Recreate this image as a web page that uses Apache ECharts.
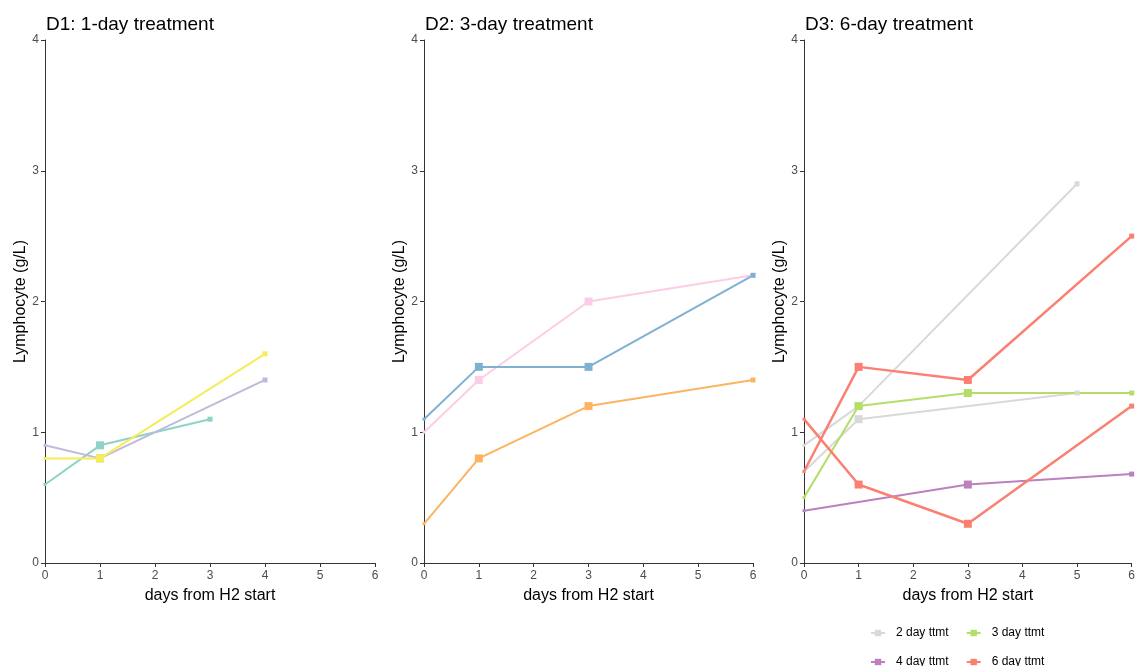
<!DOCTYPE html>
<html>
<head>
<meta charset="utf-8">
<script src="https://cdn.jsdelivr.net/npm/echarts@6/dist/echarts.min.js"></script>
<style>
  html, body { margin: 0; padding: 0; background: #fff; }
  #chart { width: 1138px; height: 666px; }
</style>
</head>
<body>
<div id="chart"></div>
<script>
// ---- data: [days from H2 start, lymphocyte g/L] ----
const panelTitles = ['D1: 1-day treatment', 'D2: 3-day treatment', 'D3: 6-day treatment'];
const xTickMax = 6;
const yTickMax = 4;

// D1 panel
const d1Teal   = [[0, 0.6], [1, 0.9], [3, 1.1]];
const d1Purple = [[0, 0.9], [1, 0.8], [4, 1.4]];
const d1Yellow = [[0, 0.8], [1, 0.8], [4, 1.6]];

// D2 panel
const d2Blue   = [[0, 1.1], [1, 1.5], [3, 1.5], [6, 2.2]];
const d2Pink   = [[0, 1.0], [1, 1.4], [3, 2.0], [6, 2.2]];
const d2Orange = [[0, 0.3], [1, 0.8], [3, 1.2], [6, 1.4]];

// D3 panel
const legendNames = ['2 day ttmt', '3 day ttmt', '4 day ttmt', '6 day ttmt'];
const d3Ttmt2a = [[0, 0.9], [1, 1.2], [5, 2.9]];
const d3Ttmt2b = [[0, 0.7], [1, 1.1], [5, 1.3]];
const d3Ttmt3  = [[0, 0.5], [1, 1.2], [3, 1.3], [6, 1.3]];
const d3Ttmt4  = [[0, 0.4], [3, 0.6], [6, 0.68]];
const d3Ttmt6a = [[0, 0.7], [1, 1.5], [3, 1.4], [6, 2.5]];
const d3Ttmt6b = [[0, 1.1], [1, 0.6], [3, 0.3], [6, 1.2]];

// ---- styling ----
const FONT = 'Liberation Sans, Arial, sans-serif';
const grids = [
  { left: 45,  top: 40, width: 330, height: 523 },
  { left: 424, top: 40, width: 329, height: 523 },
  { left: 804, top: 40, width: 329, height: 523 }
];

function mkSeries(name, data, color, g, width) {
  const n = data.length;
  return {
    name: name,
    type: 'line',
    xAxisIndex: g,
    yAxisIndex: g,
    data: data,
    symbol: 'rect',
    symbolSize: function (v, p) {
      if (p.dataIndex === 0) return 3;
      if (p.dataIndex === n - 1) return 5;
      return 8;
    },
    showSymbol: true,
    lineStyle: { color: color, width: width || 2 },
    itemStyle: { color: color },
    emphasis: { disabled: true },
    z: 3
  };
}

const series = [
  mkSeries('D1 a', d1Teal, '#8dd3c7', 0),
  mkSeries('D1 b', d1Purple, '#bebada', 0),
  mkSeries('D1 c', d1Yellow, '#f7ec58', 0),
  mkSeries('D2 a', d2Pink, '#fccde5', 1),
  mkSeries('D2 b', d2Blue, '#80b1d3', 1),
  mkSeries('D2 c', d2Orange, '#fdb462', 1),
  mkSeries(legendNames[0], d3Ttmt2a, '#d9d9d9', 2),
  mkSeries(legendNames[0], d3Ttmt2b, '#d9d9d9', 2),
  mkSeries(legendNames[1], d3Ttmt3, '#b3de69', 2),
  mkSeries(legendNames[2], d3Ttmt4, '#bc80bd', 2),
  mkSeries(legendNames[3], d3Ttmt6a, '#fb8072', 2, 2.5),
  mkSeries(legendNames[3], d3Ttmt6b, '#fb8072', 2, 2.5)
];

const axisCommon = {
  axisLine: { show: true, lineStyle: { color: '#333', width: 1 } },
  axisTick: { show: true, length: 4, lineStyle: { color: '#333' } },
  axisLabel: { color: '#4d4d4d', fontSize: 12, fontFamily: FONT },
  splitLine: { show: false },
  nameTextStyle: { color: '#000', fontSize: 16, fontFamily: FONT }
};

const xAxes = grids.map((g, i) => Object.assign({}, axisCommon, {
  type: 'value', gridIndex: i, min: 0, max: xTickMax, interval: 1,
  name: 'days from H2 start', nameLocation: 'middle', nameGap: 25,
  axisLabel: Object.assign({}, axisCommon.axisLabel, { margin: 7 })
}));
const yAxes = grids.map((g, i) => Object.assign({}, axisCommon, {
  type: 'value', gridIndex: i, min: 0, max: yTickMax, interval: 1,
  name: 'Lymphocyte (g/L)', nameLocation: 'middle', nameGap: 16,
  axisLabel: Object.assign({}, axisCommon.axisLabel, { margin: 6 })
}));

const legendText = { fontSize: 12, color: '#000', fontFamily: FONT, padding: [0, 0, 0, 6] };

const option = {
  animation: false,
  backgroundColor: '#fff',
  title: panelTitles.map((t, i) => ({
    text: t, left: grids[i].left - 4, top: 10,
    textStyle: { fontSize: 19, fontWeight: 'normal', color: '#000', fontFamily: FONT }
  })),
  legend: [
    { data: [legendNames[0], legendNames[1]], left: 865, top: 622, orient: 'horizontal',
      itemWidth: 14, itemHeight: 8, itemGap: 17, textStyle: legendText },
    { data: [legendNames[2], legendNames[3]], left: 865, top: 651, orient: 'horizontal',
      itemWidth: 14, itemHeight: 8, itemGap: 17, textStyle: legendText }
  ],
  grid: grids,
  xAxis: xAxes,
  yAxis: yAxes,
  series: series
};

const chart = echarts.init(document.getElementById('chart'), null, { renderer: 'canvas' });
chart.setOption(option);
</script>
</body>
</html>
